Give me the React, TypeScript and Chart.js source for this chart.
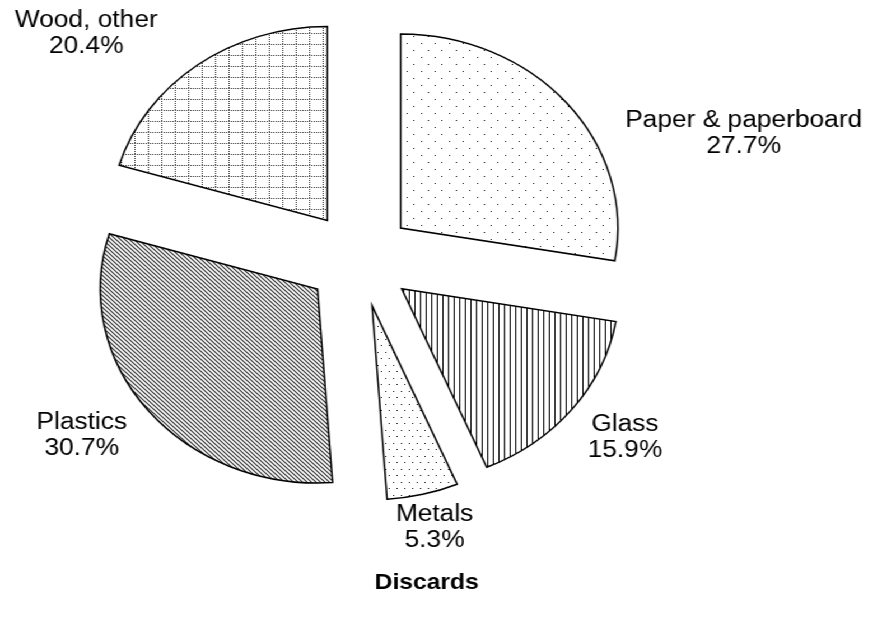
import React, { useEffect, useRef } from "react";
import { Chart, registerables } from "chart.js";

Chart.register(...registerables);

// ---- data ----
const categories = ["Paper & paperboard", "Glass", "Metals", "Plastics", "Wood, other"];
const shares = [27.7, 15.9, 5.3, 30.7, 20.4];
const patternKinds = ["sparseDots", "vertical", "denseDots", "diagonal", "dottedGrid"];
const chartTitle = "Discards";

// ---- layout (canvas units, before the horizontal stretch) ----
const STRETCH = 1.12;
const W = 779;
const H = 618;
const CX = 321;
const CY = 259;
const RADIUS = 194;
const EXPLODE = 48;
const LABEL_ANCHORS: [number, number][] = [
  [664, 127],
  [558, 431],
  [388, 521],
  [73, 429],
  [77, 27],
];
const LINE_GAP = 25.5;
const TITLE_POS: [number, number] = [381, 589];
const FONT = '"Liberation Sans", Arial, Helvetica, sans-serif';

function makePattern(kind: string): CanvasPattern | string {
  const c = document.createElement("canvas");
  let w = 8, h = 8;
  if (kind === "sparseDots") { w = 25; h = 14; }
  if (kind === "denseDots") { w = 7; h = 13; }
  if (kind === "vertical") { w = 5; h = 4; }
  if (kind === "diagonal") { w = 4; h = 4; }
  if (kind === "dottedGrid") { w = 12; h = 11; }
  c.width = w;
  c.height = h;
  const g = c.getContext("2d")!;
  g.fillStyle = "#fff";
  g.fillRect(0, 0, w, h);
  g.fillStyle = "#111";
  g.strokeStyle = "#000";
  if (kind === "sparseDots") {
    g.fillRect(1, 1, 1, 1);
    g.fillRect(13, 1, 1, 1);
    g.fillRect(7, 8, 1, 1);
    g.fillRect(19, 8, 1, 1);
  } else if (kind === "denseDots") {
    g.fillRect(1, 1, 1, 1);
    g.fillRect(4, 7, 1, 1);
  } else if (kind === "vertical") {
    g.lineWidth = 1;
    g.beginPath();
    g.moveTo(0.5, 0);
    g.lineTo(0.5, h);
    g.stroke();
  } else if (kind === "diagonal") {
    g.lineWidth = 1.1;
    g.strokeStyle = "#2a2a2a";
    g.beginPath();
    g.moveTo(-1, -1); g.lineTo(5, 5);
    g.moveTo(-1, 3); g.lineTo(1, 5);
    g.moveTo(3, -1); g.lineTo(5, 1);
    g.stroke();
  } else if (kind === "dottedGrid") {
    g.fillStyle = "#333";
    for (let y = 0; y < h; y += 2) g.fillRect(0, y, 1, 1);
    for (let x = 0; x < w; x += 2) g.fillRect(x, 0, 1, 1);
  }
  const p = g.createPattern(c, "repeat");
  return p || "#fff";
}

const explodePlugin = {
  id: "explodeSlices",
  beforeDatasetsDraw(chart: any) {
    const area = chart.chartArea;
    const cx = (area.left + area.right) / 2;
    const cy = (area.top + area.bottom) / 2;
    const meta = chart.getDatasetMeta(0);
    meta.data.forEach((arc: any) => {
      const mid = (arc.startAngle + arc.endAngle) / 2;
      arc.x = cx + Math.cos(mid) * EXPLODE;
      arc.y = cy + Math.sin(mid) * EXPLODE;
    });
  },
};

const labelPlugin = {
  id: "sliceLabels",
  afterDraw(chart: any) {
    const ctx = chart.ctx as CanvasRenderingContext2D;
    ctx.save();
    ctx.fillStyle = "#000";
    ctx.textAlign = "center";
    ctx.textBaseline = "alphabetic";
    ctx.font = `23.5px ${FONT}`;
    categories.forEach((name, i) => {
      const [x, y] = LABEL_ANCHORS[i];
      ctx.fillText(name, x, y);
      ctx.fillText(`${shares[i].toFixed(1)}%`, x, y + LINE_GAP);
    });
    ctx.font = `bold 22px ${FONT}`;
    ctx.fillText(chartTitle, TITLE_POS[0], TITLE_POS[1]);
    ctx.restore();
  },
};

export default function App() {
  const ref = useRef<HTMLCanvasElement>(null);
  useEffect(() => {
    if (!ref.current) return;
    const patterns = patternKinds.map(makePattern);
    const chart = new Chart(ref.current, {
      type: "pie",
      data: {
        labels: categories,
        datasets: [
          {
            data: shares,
            backgroundColor: patterns as any,
            borderColor: "#000",
            borderWidth: 1.5,
            borderJoinStyle: "miter",
            clip: false,
          } as any,
        ],
      },
      options: {
        responsive: false,
        animation: false,
        events: [],
        radius: RADIUS,
        layout: {
          padding: { left: 0, top: 0, right: W - 2 * CX, bottom: H - 2 * CY },
        },
        plugins: {
          legend: { display: false },
          tooltip: { enabled: false },
          title: { display: false },
        },
      } as any,
      plugins: [explodePlugin, labelPlugin],
    });
    return () => chart.destroy();
  }, []);
  return (
    <div
      style={{
        position: "absolute",
        left: 0,
        top: 0,
        width: W,
        height: H,
        transform: `scale(${STRETCH}, 1)`,
        transformOrigin: "0 0",
        background: "#fff",
      }}
    >
      <canvas ref={ref} width={W} height={H} style={{ display: "block", width: W, height: H }} />
    </div>
  );
}
